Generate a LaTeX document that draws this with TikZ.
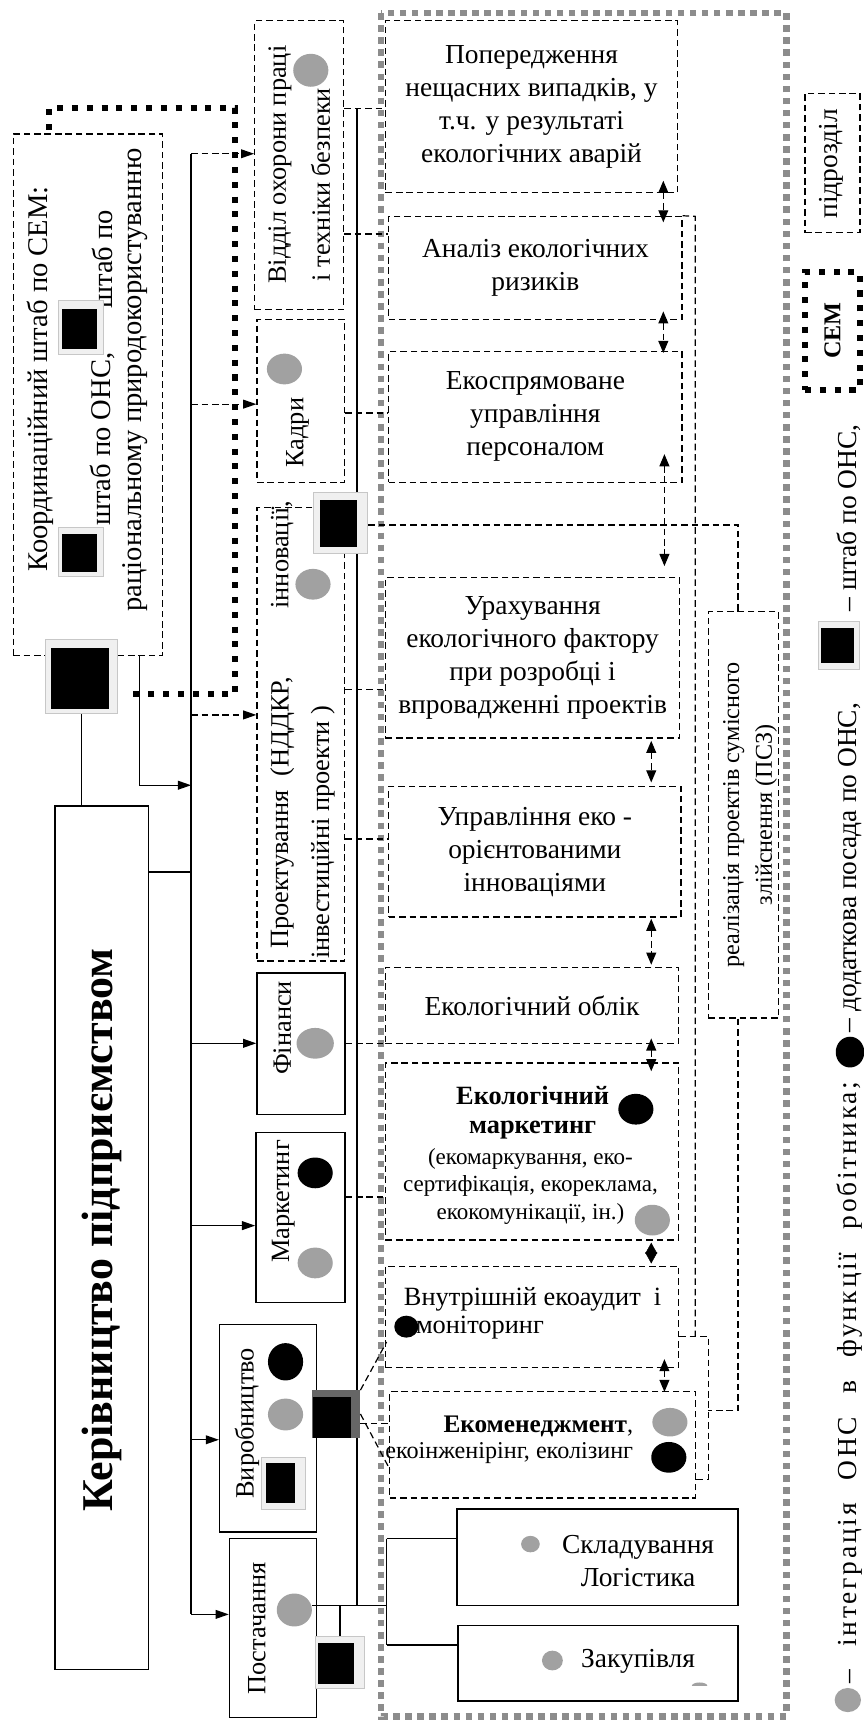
\documentclass[tikz,border=0pt]{standalone}
\usepackage{fontspec}
\setmainfont{Liberation Serif}
\usetikzlibrary{arrows.meta,shapes.geometric}
\newcommand{\fsA}{\fontsize{25pt}{30pt}\selectfont}
\newcommand{\fsB}{\fontsize{24pt}{26pt}\selectfont}
\newcommand{\fsC}{\fontsize{21pt}{25pt}\selectfont}
\newcommand{\fsD}{\fontsize{22pt}{24pt}\selectfont}
\newcommand{\fsL}{\fontsize{24pt}{29pt}\selectfont}
\newcommand{\fsK}{\fontsize{26pt}{31pt}\selectfont}
\newcommand{\fsT}{\fontsize{40pt}{46pt}\selectfont}
\newcommand{\fsP}{\fontsize{22pt}{30pt}\selectfont}
\newcommand{\fsG}{\fontsize{25pt}{30pt}\selectfont}
\begin{document}
\begin{tikzpicture}[x=1pt,y=-1pt,
  dbox/.style={draw, line width=1.1pt, dash pattern=on 6pt off 3.5pt, inner sep=0pt},
  sbox/.style={draw, line width=1.3pt, inner sep=0pt},
  dcon/.style={line width=1.1pt, dash pattern=on 6pt off 3.5pt},
  scon/.style={line width=1.2pt},
  tip/.style={-{Triangle[length=12pt,width=8pt]}},
  dtip/.style={{Triangle[length=11pt,width=9pt]}-{Triangle[length=11pt,width=9pt]}},
  gframe/.style={draw=black!45, line width=6pt, dash pattern=on 6pt off 5pt},
  bframe/.style={draw=black, line width=5.5pt, dash pattern=on 5.5pt off 8pt},
  gell/.style={ellipse, fill=black!37, inner sep=0pt},
  bell/.style={ellipse, fill=black, inner sep=0pt},
  icofr/.style={fill=black!6, draw=black!22, line width=0.8pt, inner sep=0pt},
  icblk/.style={fill=black, inner sep=0pt},
  rtxt/.style={rotate=90, inner sep=0pt},
]
\fill[white] (0,0) rectangle (786,1568);
\useasboundingbox (0,0) rectangle (786,1568);

% frames
\draw[gframe] (347,12) rectangle (716,1563);
\draw[bframe] (45,118) -- (45,98) -- (214,98) -- (214,632) -- (114,632);

% coordination box and title
\node[dbox, minimum width=136pt, minimum height=475pt] (Coord) at (80,359.5) {};
\node[rtxt, font=\fsK] (ct1) at (37,345) {Координаційний штаб по СЕМ:};
\node[rtxt, font=\fsK] (ct2) at (93,400) {штаб по ОНС,};
\node[rtxt, font=\fsK] (ct3) at (93,236) {штаб по};
\node[rtxt, font=\fsK] (ct4) at (123,346) {раціональному природокористуванню};
\node[sbox, minimum width=85pt, minimum height=786pt] (Title) at (92.5,1127) {};
\node[rtxt, font=\fsT\bfseries] (tt1) at (93,1120) {Керівництво підприємством};

% left column boxes
\node[dbox, minimum width=81pt, minimum height=263pt] (Vid) at (272.5,150.5) {};
\node[rtxt, font=\fsL] (vt1) at (255,150) {Відділ охорони праці};
\node[rtxt, font=\fsL] (vt2) at (292,168) {і техніки безпеки};
\node[dbox, minimum width=80pt, minimum height=148pt] (Kadry) at (274,365) {};
\node[rtxt, font=\fsL] (kt1) at (271,394) {Кадри};
\node[dbox, minimum width=80pt, minimum height=413pt] (Proekt) at (274,668.5) {};
\node[rtxt, font=\fsL] (pt1) at (257,792) {Проектування};
\node[rtxt, font=\fsL] (pt2) at (257,662) {(НДДКР,};
\node[rtxt, font=\fsL] (pt3) at (257,505) {інновації,};
\node[rtxt, font=\fsL] (pt4) at (294,758) {інвестиційні проекти )};
\node[sbox, minimum width=80pt, minimum height=129pt] (Fin) at (274,950.5) {};
\node[rtxt, font=\fsL] (ft1) at (257,936) {Фінанси};
\node[sbox, minimum width=81pt, minimum height=155pt] (Mark) at (273.5,1108.5) {};
\node[rtxt, font=\fsL] (mt1) at (258,1094) {Маркетинг};
\node[sbox, minimum width=88pt, minimum height=189pt] (Vyr) at (244,1300.5) {};
\node[rtxt, font=\fsL] (yt1) at (225,1296) {Виробництво};
\node[sbox, minimum width=79pt, minimum height=163pt] (Post) at (248.5,1482.5) {};
\node[rtxt, font=\fsL] (st1) at (234,1483) {Постачання};

% process boxes
\node[dbox, minimum width=266pt, minimum height=156pt, align=center, font=\fsA] (B1) at (484,97)
  {Попередження\\нещасних випадків, у\\т.ч. у результаті\\екологічних аварій};
\node[dbox, minimum width=267pt, minimum height=94pt, align=center, font=\fsA] (B2) at (487.5,244)
  {Аналіз екологічних\\ризиків};
\node[dbox, minimum width=267pt, minimum height=119pt, align=center, font=\fsA] (B3) at (487.5,379.5)
  {Екоспрямоване\\управління\\персоналом};
\node[dbox, minimum width=268pt, minimum height=146pt, align=center, font=\fsA] (B4) at (485,599)
  {Урахування\\екологічного фактору\\при розробці і\\впровадженні проектів};
\node[dbox, minimum width=266pt, minimum height=119pt, align=center, font=\fsA] (B5) at (487,775.5)
  {Управління еко -\\орієнтованими\\інноваціями};
\node[dbox, minimum width=267pt, minimum height=69pt, align=center, font=\fsA] (B6) at (484.5,915.5)
  {Екологічний облік};
\node[dbox, minimum width=267pt, minimum height=161pt] (B7) at (484.5,1048.5) {};
\node[align=center, font=\fsB\bfseries] (b7t1) at (485,1013) {Екологічний\\маркетинг};
\node[align=center, font=\fsC] (b7t2) at (483,1080) {(екомаркування, еко-\\сертифікація, екореклама,\\екокомунікації, ін.)};
\node[dbox, minimum width=267pt, minimum height=92pt] (B8) at (484.5,1199) {};
\node[font=\fsB] (b8t1) at (485,1183) {Внутрішній екоаудит~~і};
\node[font=\fsB] (b8t2) at (437,1209) {моніторинг};
\node[dbox, minimum width=278pt, minimum height=97pt] (B9) at (494,1315.5) {};
\node[font=\fsD, align=right, anchor=east] (b9t) at (580,1311) {\textbf{\fontsize{23pt}{24pt}\selectfont Екоменеджмент},\\екоінженірінг, еколізинг};
\node[dbox, minimum width=64pt, minimum height=370pt] (PSZ) at (677,742) {};
\node[rtxt, font=\fsP, align=center] (pszt) at (683,742) {реалізація проектів сумісного\\злійснення (ПСЗ)};
\node[sbox, minimum width=256pt, minimum height=88pt] (Sklad) at (544,1418) {};
\node[font=\fsA, align=center] (skt) at (581,1421) {Складування\\Логістика};
\node[sbox, minimum width=255pt, minimum height=69pt] (Zakup) at (544.5,1514.5) {};
\node[font=\fsA] (zat) at (581,1513) {Закупівля};

% legend
\node[dbox, minimum width=50pt, minimum height=127pt] (LgP) at (758,148.5) {};
\node[rtxt, font=\fsA] (lgpt) at (757,149) {підрозділ};
\node[draw, bframe, minimum width=50pt, minimum height=107pt, inner sep=0pt] (LgS) at (758,301.5) {};
\node[rtxt, font=\fsD\bfseries] (lgst) at (758,301) {СЕМ};
\node[gell, minimum width=24pt, minimum height=22pt] (LgG) at (772,1548) {};
\node[rotate=90, inner sep=0pt, anchor=base west, font=\fsG\addfontfeatures{LetterSpace=10}] (lgt1) at (780,1533)
  {\makebox[548pt][s]{– інтеграція ОНС в функції робітника;}};
\node[bell, minimum width=26pt, minimum height=28pt] (LgB) at (774,958) {};
\node[rotate=90, inner sep=0pt, anchor=base west, font=\fsG] (lgt2) at (780,940) {– додаткова посада по ОНС,};
\node[icofr, minimum width=38pt, minimum height=44pt] (IcL) at (764,588) {};
\node[icblk, minimum width=30pt, minimum height=32pt] (IcLin) at (763,588) {};
\node[rotate=90, inner sep=0pt, anchor=base west, font=\fsG] (lgt3) at (780,557) {– штаб по ОНС,};

% backbone and arrows
\coordinate (bbT) at (174,140);
\coordinate (bbB) at (174,1470);
\coordinate (bb2) at (174,368);
\coordinate (bb3) at (174,651);
\coordinate (bb4) at (174,950);
\coordinate (bb5) at (174,1116);
\coordinate (bb6) at (174,1311);
\draw[scon] (bbT) -- (bbB);
\draw[dcon,tip] (bbT) -- (bbT -| Vid.west);
\draw[dcon,tip] (bb2) -- (bb2 -| Kadry.west);
\draw[dcon,tip] (bb3) -- (bb3 -| Proekt.west);
\draw[scon,tip] (bb4) -- (bb4 -| Fin.west);
\draw[scon,tip] (bb5) -- (bb5 -| Mark.west);
\draw[scon,tip] (bb6) -- (bb6 -| Vyr.west);
\draw[scon,tip] (bbB) -- (bbB -| Post.west);
\coordinate (cc1) at (127,715);
\draw[scon,tip] (Coord.south -| cc1) -- (cc1) -- (cc1 -| bbT);
\coordinate (tt) at (174,794);
\draw[scon] (tt -| Title.east) -- (tt);

% second vertical line and dashed links
\coordinate (v2t) at (325,99);
\coordinate (v2b) at (325,1462);
\draw[scon] (v2t) -- (v2b);
\draw[dcon] (v2t -| Vid.east) -- (v2t -| B1.west);
\coordinate (h2) at (325,213);
\draw[dcon] (h2 -| Vid.east) -- (h2 -| B2.west);
\coordinate (h3) at (325,376);
\draw[dcon] (h3 -| Kadry.east) -- (h3 -| B3.west);
\coordinate (h5) at (325,628);
\draw[dcon] (h5 -| Proekt.east) -- (h5 -| B4.west);
\coordinate (h6) at (325,764);
\draw[dcon] (h6 -| Proekt.east) -- (h6 -| B5.west);
\coordinate (h7) at (325,950);
\draw[dcon] (h7 -| Fin.east) -- (h7 -| B6.west);
\coordinate (h8) at (325,1090);
\draw[dcon] (h8 -| Mark.east) -- (h8 -| B7.west);

% right network
\coordinate (pszT) at (672,478);
\coordinate (r1) at (633,197);
\coordinate (r2) at (633,1217);
\coordinate (r3) at (645,1217);
\coordinate (r4) at (645,1347);
\coordinate (p1) at (672,1284);
\draw[dcon] (B2.north east) -- (r1) -- (r2);
\draw[dcon] (r2 -| B8.east) -- (r3) -- (r4) -- (r4 -| B9.east);
\draw[dcon] (PSZ.south -| p1) -- (p1) -- (p1 -| r3);

% double arrows
\coordinate (ax1) at (604,0);
\coordinate (ax2) at (605,0);
\coordinate (ax3) at (593,0);
\draw[dcon,dtip,shorten <=-11pt,shorten >=-6pt] (B1.south -| ax1) -- (B2.north -| ax1);
\draw[dcon,dtip,shorten <=-8pt,shorten >=-2pt] (B2.south -| ax1) -- (B3.north -| ax1);
\draw[dcon,dtip,shorten <=-26pt,shorten >=10pt] (B3.south -| ax2) -- (B4.north -| ax2);
\draw[dcon,dtip,shorten <=2pt,shorten >=3pt] (B4.south -| ax3) -- (B5.north -| ax3);
\draw[dcon,dtip,shorten <=1pt,shorten >=2pt] (B5.south -| ax3) -- (B6.north -| ax3);
\draw[dcon,dtip,shorten <=-5pt,shorten >=-8pt] (B6.south -| ax3) -- (B7.north -| ax3);
\draw[{Triangle[length=10pt,width=11pt]}-{Triangle[length=10pt,width=11pt]},shorten <=2pt,shorten >=2pt] (B7.south -| ax3) -- (B8.north -| ax3);
\draw[dcon,dtip,shorten <=-8pt,shorten >=-1pt] (B8.south -| ax2) -- (B9.north -| ax2);

% supply links
\node[gell, minimum width=32pt, minimum height=30pt] (PostE) at (268,1466) {};
\coordinate (s0) at (352,1462);
\coordinate (s1) at (352,1401);
\coordinate (s2) at (352,1498);
\draw[scon] (s0 -| PostE.east) -- (s0);
\draw[scon] (s1) -- (s2);
\draw[scon] (s1) -- (s1 -| Sklad.west);
\draw[scon] (s2) -- (s2 -| Zakup.west);

% icons
\node[icofr, minimum width=41pt, minimum height=49pt] (IcA) at (73.5,298.5) {};
\node[icblk, minimum width=32pt, minimum height=37pt] (IcAin) at (72,299.5) {};
\node[icofr, minimum width=41pt, minimum height=45pt] (IcB) at (73.5,502.5) {};
\node[icblk, minimum width=32pt, minimum height=35pt] (IcBin) at (72,503.5) {};
\node[icofr, minimum width=65pt, minimum height=68pt] (IcBig) at (74,616) {};
\node[icblk, minimum width=53pt, minimum height=56pt] (IcBigin) at (73,618) {};
\coordinate (tl) at (74,700);
\draw[scon] (IcBig.south) -- (tl |- Title.north);
\node[icofr, minimum width=50pt, minimum height=56pt] (IcK) at (310,476) {};
\node[icblk, minimum width=34pt, minimum height=43pt] (IcKin) at (308,476.5) {};
\draw[dcon] (pszT -| IcK.east) -- (pszT) -- (pszT |- PSZ.north);
\node[icofr, minimum width=40pt, minimum height=47pt] (IcV) at (258,1350.5) {};
\node[icblk, minimum width=27pt, minimum height=37pt] (IcVin) at (255.5,1350.5) {};
\node[fill=black!60, inner sep=0pt, minimum width=44pt, minimum height=43pt] (IcV2) at (306,1287.5) {};
\node[icblk, minimum width=35pt, minimum height=37pt] (IcV2in) at (302.5,1290.5) {};
\coordinate (d1) at (352,1222);
\coordinate (d2) at (325,1296);
\coordinate (d3) at (355,1338);
\draw[dcon] (IcV2.north east) -- (d1);
\draw[dcon] (d2 -| IcV2.east) -- (d2 -| B9.west);
\draw[dcon] (IcV2.east) -- (d3);
\node[icofr, minimum width=45pt, minimum height=47pt] (IcP) at (309.5,1513.5) {};
\node[icblk, minimum width=32pt, minimum height=37pt] (IcPin) at (306,1514.5) {};
\draw[scon] (IcP.north |- s0) -- (IcP.north);

% ellipses
\node[gell, minimum width=32pt, minimum height=30pt] (VidE) at (283,64) {};
\node[gell, minimum width=32pt, minimum height=28pt] (KadE) at (259,336) {};
\node[gell, minimum width=32pt, minimum height=28pt] (ProE) at (285,532) {};
\node[gell, minimum width=34pt, minimum height=28pt] (FinE) at (287,950) {};
\node[bell, minimum width=32pt, minimum height=28pt] (MarkB) at (287,1068) {};
\node[gell, minimum width=32pt, minimum height=28pt] (MarkG) at (287,1150) {};
\node[bell, minimum width=32pt, minimum height=34pt] (VyrB) at (260,1240) {};
\node[gell, minimum width=32pt, minimum height=29pt] (VyrG) at (260,1288) {};
\node[bell, minimum width=32pt, minimum height=28pt] (B7B) at (579,1010) {};
\node[gell, minimum width=32pt, minimum height=28pt] (B7G) at (594,1111) {};
\node[bell, minimum width=22pt, minimum height=20pt] (B8B) at (370,1208) {};
\node[gell, minimum width=32pt, minimum height=26pt] (B9G) at (610,1295) {};
\node[bell, minimum width=32pt, minimum height=28pt] (B9B) at (609,1327) {};
\node[gell, minimum width=17pt, minimum height=15pt] (SkE) at (483,1406) {};
\node[gell, minimum width=19pt, minimum height=18pt] (ZaE) at (503,1512) {};
\fill[black!37] (630,1535) arc[start angle=180,end angle=360,x radius=7,y radius=3] -- cycle;
\end{tikzpicture}
\end{document}
